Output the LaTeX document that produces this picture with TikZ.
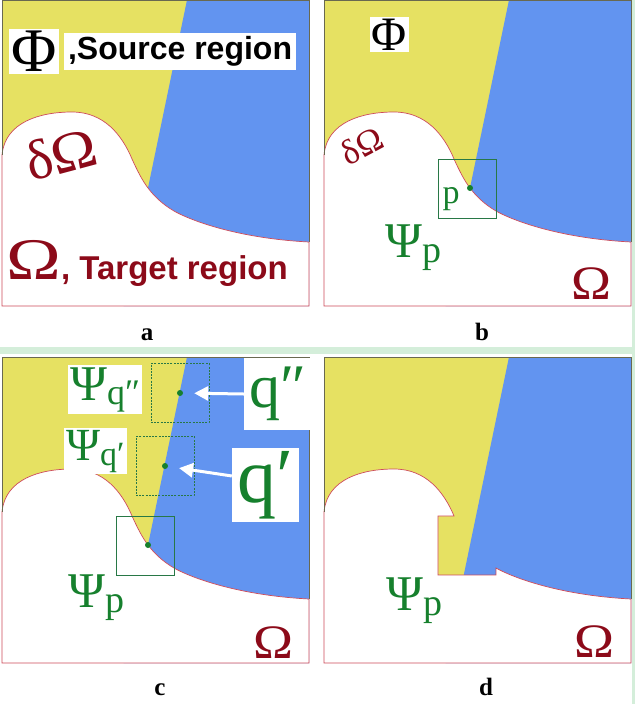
\documentclass[tikz,border=0pt]{standalone}
\usepackage{fontspec}
\setmainfont{Liberation Serif}
\newfontfamily\labelsans{Liberation Sans}
\usepackage{xcolor}
\usetikzlibrary{
  arrows.meta,
  positioning
}

\definecolor{srcyellow}{RGB}{230,225,98}
\definecolor{srcblue}{RGB}{98,148,240}
\definecolor{psigreen}{RGB}{22,128,45}
\definecolor{wingreen}{RGB}{40,120,70}
\definecolor{omegared}{RGB}{140,10,25}
\definecolor{edgered}{RGB}{205,75,90}
\definecolor{edgeolive}{RGB}{105,105,80}
\definecolor{stripgreen}{RGB}{212,238,218}

\newcommand{\psisub}[4]{{\fontsize{#1}{#1}\selectfont Ψ}\raisebox{-#3}{\fontsize{#2}{#2}\selectfont #4}}

\begin{document}
\begin{tikzpicture}[x=1pt, y=-1pt,
  whitebox/.style={fill=white, inner sep=2pt},
  target-fill/.style={fill=white, draw=edgered, line width=0.7pt},
  frame-line/.style={draw=edgeolive, line width=0.9pt},
  window/.style={draw=wingreen, line width=0.9pt, minimum width=58pt, minimum height=59pt, inner sep=0},
  dashwindow/.style={window, dashed, dash pattern=on 2pt off 1.2pt},
  seed/.style={circle, fill=psigreen, minimum size=6pt, inner sep=0},
  greek-red/.style={text=omegared, inner sep=0},
  greek-green/.style={text=psigreen, inner sep=0},
  pointer/.style={draw=white, line width=3pt, -{Triangle[length=14pt, width=14pt]}, shorten >=11pt},
  panel-label/.style={anchor=base, font=\bfseries\fontsize{25}{25}\selectfont, inner sep=0}
]
\useasboundingbox (0,0) rectangle (635,704);
\fill[white] (0,0) rectangle (635,704);
\fill[stripgreen] (0,347) rectangle (635,354);
\fill[stripgreen] (632,0) rectangle (635,704);

\foreach \px/\py in {2/0,324/0,2/357} {
  \begin{scope}[shift={(\px,\py)}]
    \fill[srcyellow] (0,0) rectangle (307,306);
    \fill[srcblue] (185,0) -- (307,0) -- (307,306) -- (121.5,306) -- cycle;
    \path[target-fill] (0,155) .. controls (3,122) and (38,112) .. (70,112)
      .. controls (102,112) and (120,135) .. (130,159)
      .. controls (135.5,171) and (140,180) .. (146,188)
      .. controls (152,196) and (160,204) .. (172,211)
      .. controls (184,218) and (230,238) .. (307,242)
      -- (307,306) -- (0,306) -- cycle;
    \draw[frame-line] (0,155) -- (0,0) -- (307,0) -- (307,242);
  \end{scope}
}

\begin{scope}[shift={(324,357)}]
  \fill[srcyellow] (0,0) rectangle (307,306);
  \fill[srcblue] (185,0) -- (307,0) -- (307,306) -- (121.5,306) -- cycle;
  \path[target-fill] (0,155) .. controls (3,122) and (38,112) .. (70,112)
    .. controls (102,112) and (120,135) .. (130,159)
    -- (114,159) -- (114,218) -- (172,218) -- (172,211)
    .. controls (184,218) and (230,238) .. (307,242)
    -- (307,306) -- (0,306) -- cycle;
  \draw[frame-line] (0,155) -- (0,0) -- (307,0) -- (307,242);
\end{scope}

% a
\node[whitebox, font=\fontsize{62}{62}\selectfont] (phi-a) at (34,51.5) {Φ};
\node[whitebox, inner xsep=4pt, inner ysep=4pt, right=5pt of phi-a, font=\labelsans\bfseries\fontsize{32}{32}\selectfont] (source-a) {,Source region};
\node[greek-red, rotate=15, font=\fontsize{56}{56}\selectfont] (boundary-a) at (61,154) {δ\scalebox{1.1}[1]{Ω}};
\node[greek-red, anchor=base west] (target-a) at (6,279) {{\fontsize{59}{59}\selectfont\scalebox{1.25}[1]{Ω}}{\labelsans\bfseries\fontsize{33}{33}\selectfont , Target region}};
\node[panel-label] (label-a) at (147,340) {a};

% b
\node[whitebox, font=\fontsize{48}{48}\selectfont] (phi-b) at (389.5,34.5) {Φ};
\node[greek-red, rotate=28, font=\fontsize{35}{35}\selectfont] (boundary-b) at (362,146) {δΩ};
\node[window] (window-p-b) at (467,188.5) {};
\node[seed] (seed-p-b) at (470,188) {};
\node[greek-green, font=\fontsize{34}{34}\selectfont] (p-b) at (451,199) {p};
\node[greek-green, anchor=base west] (psi-p-b) at (385,257) {\psisub{50}{38}{5pt}{p}};
\node[greek-red, font=\fontsize{48}{48}\selectfont] (omega-b) at (591,284) {\scalebox{1.12}[1]{Ω}};
\node[panel-label] (label-b) at (482,340) {b};

% c
\node[window] (window-p-c) at (145,545.5) {};
\node[seed] (seed-p-c) at (148,545) {};
\node[seed] (q2-seed) at (180,393) {};
\node[dashwindow] (q2-window) at (q2-seed) {};
\node[seed] (q1-seed) at (165,466) {};
\node[dashwindow] (q1-window) at (q1-seed) {};
\node[whitebox, greek-green, inner sep=2pt, anchor=base west] (psi-q2) at (68,400) {\psisub{50}{36}{4pt}{q″}};
\node[whitebox, greek-green, inner sep=2pt, anchor=base west] (psi-q1) at (64,460) {\psisub{46}{34}{5pt}{q′}};
\node[whitebox, greek-green, minimum width=68pt, minimum height=72pt, font=\fontsize{62}{62}\selectfont] (q2-label) at (278,394) {q″};
\node[whitebox, greek-green, minimum width=67pt, minimum height=74pt, font=\fontsize{78}{78}\selectfont] (q1-label) at (265.5,485) {q′};
\draw[pointer] (q2-label.west) -- (q2-seed);
\draw[pointer] (q1-label.165) -- (q1-seed);
\node[greek-green, anchor=base west] (psi-p-c) at (68,607) {\psisub{50}{38}{5pt}{p}};
\node[greek-red, font=\fontsize{48}{48}\selectfont] (omega-c) at (273,643) {\scalebox{1.12}[1]{Ω}};
\node[panel-label] (label-c) at (160,695) {c};

% d
\node[greek-green, anchor=base west] (psi-p-d) at (386,610) {\psisub{50}{38}{5pt}{p}};
\node[greek-red, font=\fontsize{48}{48}\selectfont] (omega-d) at (594,642) {\scalebox{1.12}[1]{Ω}};
\node[panel-label] (label-d) at (486,695) {d};
\end{tikzpicture}
\end{document}
